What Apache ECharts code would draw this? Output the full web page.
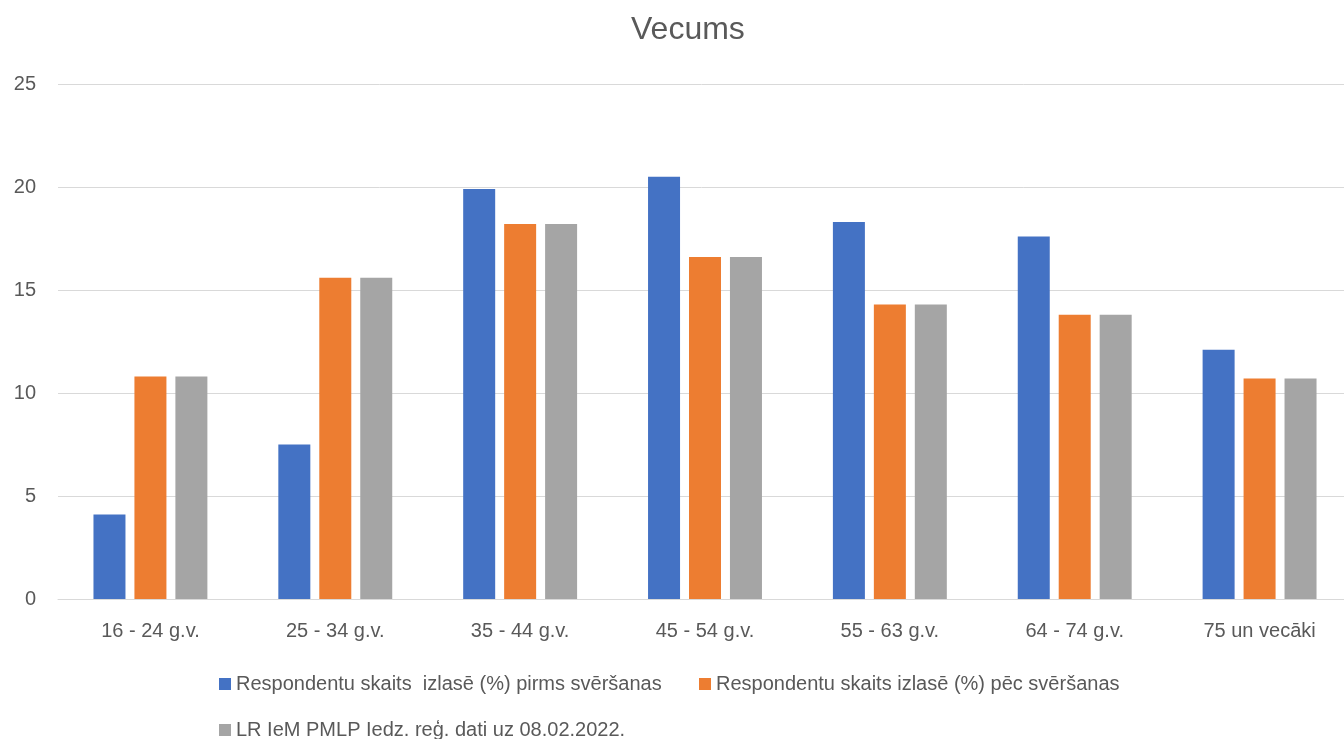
<!DOCTYPE html>
<html>
<head>
<meta charset="utf-8">
<script src="https://cdn.jsdelivr.net/npm/echarts@6/dist/echarts.min.js"></script>
<style>html,body{margin:0;padding:0;background:#fff}#c{width:1344px;height:739px}</style>
</head>
<body>
<div id="c"></div>
<script>
const categories = ['16 - 24 g.v.', '25 - 34 g.v.', '35 - 44 g.v.', '45 - 54 g.v.', '55 - 63 g.v.', '64 - 74 g.v.', '75 un vecāki'];
const seriesNames = ['Respondentu skaits  izlasē (%) pirms svēršanas', 'Respondentu skaits izlasē (%) pēc svēršanas', 'LR IeM PMLP Iedz. reģ. dati uz 08.02.2022.'];
const beforeWeighting = [4.1, 7.5, 19.9, 20.5, 18.3, 17.6, 12.1];
const afterWeighting = [10.8, 15.6, 18.2, 16.6, 14.3, 13.8, 10.7];
const registerData = [10.8, 15.6, 18.2, 16.6, 14.3, 13.8, 10.7];
const colors = ['#4472c4', '#ed7d31', '#a5a5a5'];

const font = 'Liberation Sans, Arial, sans-serif';
const txt = '#595959';
const legendText = { fontFamily: font, fontSize: 20, color: txt };
const chart = echarts.init(document.getElementById('c'));
chart.setOption({
  animation: false,
  color: colors,
  title: {
    text: 'Vecums', left: 626, top: 9,
    textStyle: { fontFamily: font, fontSize: 32, fontWeight: 'normal', color: txt }
  },
  legend: [
    { data: [seriesNames[0]], left: 214, top: 669, itemWidth: 12, itemHeight: 12, itemGap: 8,
      icon: 'rect', textStyle: legendText },
    { data: [seriesNames[1]], left: 694, top: 669, itemWidth: 12, itemHeight: 12,
      icon: 'rect', textStyle: legendText },
    { data: [seriesNames[2]], left: 214, top: 715, itemWidth: 12, itemHeight: 12,
      icon: 'rect', textStyle: legendText }
  ],
  grid: { left: 58, top: 84, width: 1294, height: 515, containLabel: false, outerBoundsMode: 'none' },
  xAxis: {
    type: 'category', data: categories,
    axisLine: { lineStyle: { color: '#d9d9d9' } },
    axisTick: { show: false },
    axisLabel: { fontFamily: font, fontSize: 20, color: txt, margin: 22 }
  },
  yAxis: {
    type: 'value', min: 0, max: 25, interval: 5,
    axisLine: { show: false }, axisTick: { show: false },
    splitLine: { lineStyle: { color: '#d9d9d9' } },
    axisLabel: { fontFamily: font, fontSize: 20, color: txt, margin: 22 }
  },
  series: [
    { name: seriesNames[0], type: 'bar', data: beforeWeighting, barWidth: 32, barGap: '28%' },
    { name: seriesNames[1], type: 'bar', data: afterWeighting, barWidth: 32, barGap: '28%' },
    { name: seriesNames[2], type: 'bar', data: registerData, barWidth: 32, barGap: '28%' }
  ]
});
</script>
</body>
</html>
